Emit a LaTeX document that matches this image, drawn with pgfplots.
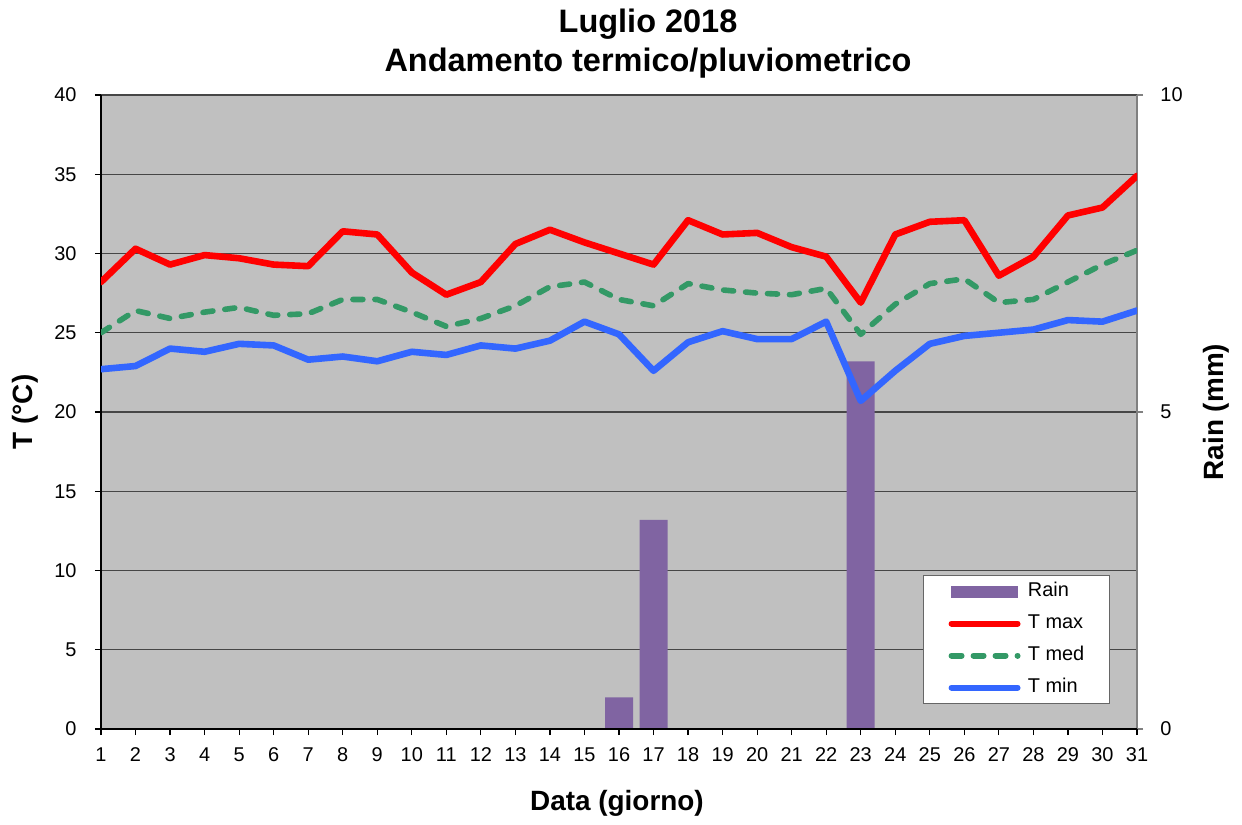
\documentclass[border=0pt]{standalone}
\usepackage{pgfplots}
\usepackage{pgfplotstable}
\pgfplotsset{compat=1.18}
\usepackage{fontspec}
\setmainfont{Liberation Sans}
\definecolor{bgc}{RGB}{192,192,192}
\definecolor{gridc}{RGB}{70,70,70}
\definecolor{rainc}{RGB}{128,100,162}
\definecolor{tmaxc}{RGB}{255,0,0}
\definecolor{tmedc}{RGB}{51,153,102}
\definecolor{tminc}{RGB}{51,102,255}
\definecolor{raxc}{RGB}{128,128,128}

\pgfplotstableread{
day tmax tmed tmin rain
1 28.2 25.0 22.7 0
2 30.3 26.4 22.9 0
3 29.3 25.9 24.0 0
4 29.9 26.3 23.8 0
5 29.7 26.6 24.3 0
6 29.3 26.1 24.2 0
7 29.2 26.2 23.3 0
8 31.4 27.1 23.5 0
9 31.2 27.1 23.2 0
10 28.8 26.3 23.8 0
11 27.4 25.4 23.6 0
12 28.2 25.9 24.2 0
13 30.6 26.7 24.0 0
14 31.5 27.9 24.5 0
15 30.7 28.2 25.7 0
16 30.0 27.1 24.9 0.5
17 29.3 26.7 22.6 3.3
18 32.1 28.1 24.4 0
19 31.2 27.7 25.1 0
20 31.3 27.5 24.6 0
21 30.4 27.4 24.6 0
22 29.8 27.8 25.7 0
23 26.9 24.9 20.7 5.8
24 31.2 26.8 22.6 0
25 32.0 28.1 24.3 0
26 32.1 28.4 24.8 0
27 28.6 26.9 25.0 0
28 29.8 27.1 25.2 0
29 32.4 28.2 25.8 0
30 32.9 29.3 25.7 0
31 34.9 30.2 26.4 0
}\datatable

\begin{document}
\begin{tikzpicture}
\pgfplotsset{base/.style={width=518bp,height=317bp,scale only axis,xmin=1,xmax=31,
  /pgf/number format/assume math mode=true,
  tick label style={font=\fontsize{10}{12}\selectfont}}}

% background and grid
\begin{axis}[base, ymin=0, ymax=40, ytick={5,10,...,40}, yticklabels={}, xtick=\empty,
  ymajorgrids, major grid style={gridc, line width=0.6bp},
  axis line style={draw=none}, major tick length=0pt,
  axis background/.style={fill=bgc}]
\end{axis}

% rain bars, right axis
\begin{axis}[base, ymin=0, ymax=10, axis y line*=right, axis x line=none,
  ytick={0,5,10}, axis line style={raxc, line width=1bp, -},
  ytick style={raxc, line width=0.6bp}, tick align=outside, major tick length=3bp,
  yticklabel style={xshift=5.2bp}]
\addplot[ybar, bar width=14bp, fill=rainc, draw=none] table[x=day,y=rain]{\datatable};
\end{axis}

% temperature lines, left and bottom axes
\begin{axis}[base, ymin=0, ymax=40, axis x line*=bottom, axis y line*=left,
  axis line style={black, line width=0.8bp, -},
  xtick={1,...,31}, ytick={0,5,...,40}, tick align=outside, major tick length=3bp,
  tick style={black, line width=0.6bp},
  xticklabel style={yshift=-2.7bp}, yticklabel style={xshift=-5.7bp},
  legend image code/.code={\draw[#1, line width=3bp, line cap=round] (1.5bp,0bp) -- (34.5bp,0bp); \path (38bp,0bp);},
  legend cell align=left,
  legend style={at={(0.7934,0.2429)}, anchor=north west, draw=black!60, line width=0.6bp,
    fill=white, inner xsep=12.5bp, inner ysep=3bp, row sep=6bp,
    nodes={inner sep=0pt, text height=7.5bp, text depth=2.5bp, font=\fontsize{10}{12}\selectfont}}]
\addlegendimage{legend image code/.code={\fill[rainc] (1.5bp,-2.7bp) rectangle (34.5bp,2.7bp); \path (38bp,0bp);}}
\addlegendentry{Rain}
\addplot[tmaxc, line width=3.3bp, line join=round, line cap=round] table[x=day,y=tmax]{\datatable};
\addlegendentry{T max}
\addplot[tmedc, line width=2.8bp, line join=round, line cap=round, dash pattern=on 5bp off 6bp] table[x=day,y=tmed]{\datatable};
\addlegendentry{T med}
\addplot[tminc, line width=3.3bp, line join=round, line cap=round] table[x=day,y=tmin]{\datatable};
\addlegendentry{T min}
\end{axis}

\node[font=\fontsize{16.3}{19}\selectfont\bfseries, anchor=base] at (273.5bp,348bp) {Luglio 2018};
\node[font=\fontsize{16.3}{19}\selectfont\bfseries, anchor=base] at (273.5bp,328.5bp) {Andamento termico/pluviometrico};
\node[font=\fontsize{14}{17}\selectfont\bfseries, anchor=base] at (258bp,-40.8bp) {Data (giorno)};
\node[font=\fontsize{14}{17}\selectfont\bfseries, rotate=90, anchor=base] at (-34.2bp,158.5bp) {T (°C)};
\node[font=\fontsize{14}{17}\selectfont\bfseries, rotate=90, anchor=base] at (561bp,158.5bp) {Rain (mm)};
\path (-50.5bp,-48bp) rectangle (570.5bp,364.5bp);
\end{tikzpicture}
\end{document}
